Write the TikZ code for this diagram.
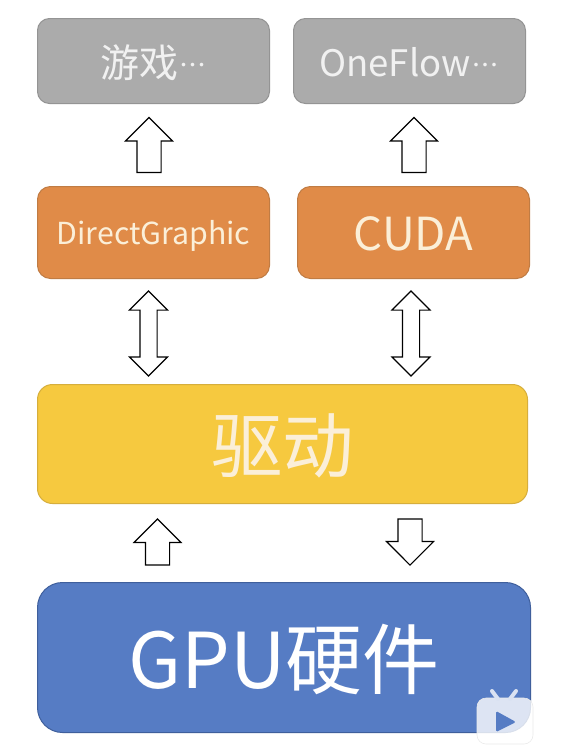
\documentclass[tikz,border=0pt]{standalone}
\usepackage{fontspec}
\setmainfont{Noto Sans CJK SC}
\usetikzlibrary{shapes.arrows}
\definecolor{grayfill}{HTML}{ABABAB}
\definecolor{grayline}{HTML}{949494}
\definecolor{orangefill}{HTML}{E08B48}
\definecolor{orangeline}{HTML}{C07C44}
\definecolor{yellowfill}{HTML}{F6C93F}
\definecolor{yellowline}{HTML}{D6AE3C}
\definecolor{bluefill}{HTML}{567CC4}
\definecolor{blueline}{HTML}{3F5F9C}
\definecolor{graytext}{HTML}{F1F1F1}
\definecolor{warmtext}{HTML}{FBEFD8}
\newcommand{\tightdots}[1]{\raisebox{#1}{\fontsize{17}{17}\selectfont\kern-3pt ·\kern-8pt·\kern-8pt·\kern-3pt}}
\newcommand{\shiftdown}[2]{\vphantom{#2}\smash{\raisebox{-#1}{#2}}}
\tikzset{
  x=1pt,y=-1pt,
  boxstyle/.style={draw,line width=1pt,rounded corners=#1,inner sep=0pt,anchor=north west},
  grayb/.style={boxstyle=12pt,fill=grayfill,draw=grayline,text=graytext,minimum width=232pt,minimum height=85pt},
  orangeb/.style={boxstyle=13pt,fill=orangefill,draw=orangeline,text=warmtext,minimum width=232pt,minimum height=92pt},
  uparrow/.style={draw=black,line width=1.1pt,fill=white,single arrow,single arrow tip angle=90,single arrow head extend=11.5pt,
    shape border rotate=90,inner sep=0pt,minimum width=46pt,minimum height=55pt,text width=23pt,text height=0pt,text depth=0pt},
  shortarrow/.style={uparrow,minimum height=46pt},
  updown/.style={draw=black,line width=1.1pt,fill=white,double arrow,double arrow tip angle=90,double arrow head extend=10.5pt,
    shape border rotate=90,inner sep=0pt,minimum width=37pt,minimum height=85pt,text width=16pt,text height=0pt,text depth=0pt},
}
\begin{document}
\begin{tikzpicture}
\useasboundingbox (0,0) rectangle (567,747);
\fill[white] (0,0) rectangle (567,747);
\node[grayb,font=\fontsize{39}{39}\selectfont] (game) at (37,18) {\shiftdown{2pt}{游戏\tightdots{6pt}}};
\node[grayb,font=\fontsize{36.5}{36.5}\selectfont] (flow) at (293,18) {\shiftdown{1pt}{OneFlow\tightdots{5pt}}};
\node[orangeb,font=\fontsize{30.3}{30.3}\selectfont] (dg) at (37,186) {\shiftdown{3pt}{DirectGraphic}};
\node[orangeb,font=\fontsize{45.5}{45.5}\selectfont] (cuda) at (297,186) {\shiftdown{1pt}{CUDA}};
\node[boxstyle=15pt,fill=yellowfill,draw=yellowline,text=warmtext,minimum width=490pt,minimum height=119pt,font=\fontsize{71.5}{71.5}\selectfont] (drv) at (37,384) {\shiftdown{2pt}{驱动}};
\node[boxstyle=25pt,fill=bluefill,draw=blueline,text=white,minimum width=493pt,minimum height=150pt,font=\fontsize{77}{77}\selectfont] (gpu) at (37,582) {\shiftdown{2pt}{GPU硬件}};
\node[uparrow] (a1) at (149,151) {};
\node[uparrow] (a2) at (414,151) {};
\node[updown] (a3) at (148.5,333.5) {};
\node[updown] (a4) at (411,333.5) {};
\node[shortarrow] (a5) at (157.5,548) {};
\node[shortarrow,shape border rotate=270] (a6) at (410,536) {};
% video site badge
\fill[white,opacity=.8,rounded corners=9pt] (477,698) rectangle (533,744);
\draw[black!8,line width=.6pt,rounded corners=9pt] (477,698) rectangle (533,744);
\draw[white!78!bluefill,line width=4pt,line cap=round] (492,691) -- (498,699) (516,691) -- (510,699);
\fill[bluefill,rounded corners=1.5pt] (496,711) -- (516,722) -- (496,732) -- cycle;
\end{tikzpicture}
\end{document}
